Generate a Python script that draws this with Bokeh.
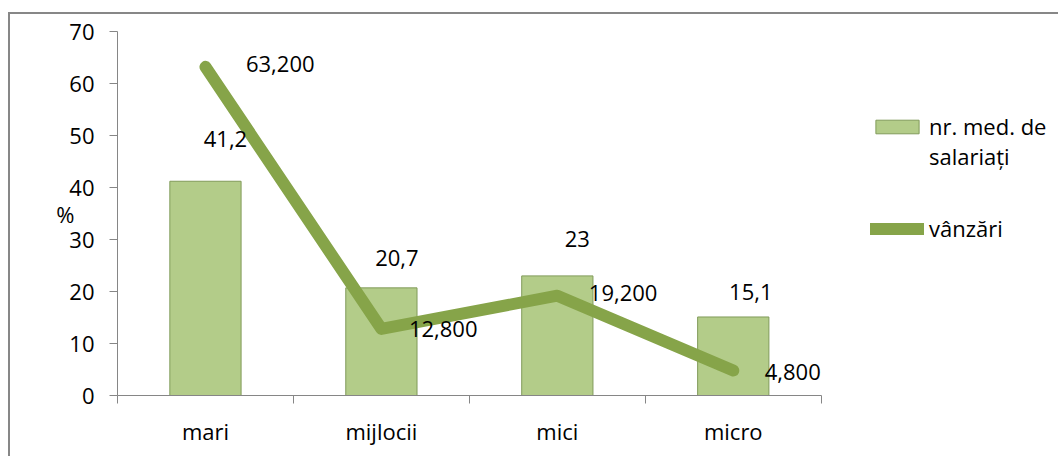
from bokeh.plotting import figure
from bokeh.models import Range1d, FixedTicker, Legend, LegendItem, ColumnDataSource
from bokeh.embed import file_html
from bokeh.resources import INLINE
from bokeh.core.properties import value

categories = ["mari", "mijlocii", "mici", "micro"]
employees = [41.2, 20.7, 23, 15.1]
sales = [63.2, 12.8, 19.2, 4.8]
y_ticks = [0, 10, 20, 30, 40, 50, 60, 70]
series_names = ["nr. med. de\nsalariați", "vânzări"]
y_axis_title = "%"

FONT = "Open Sans"
FS = "22px"
BAR_FILL = "#b3cc89"
BAR_LINE = "#819b5a"
LINE_COLOR = "#86a449"
AXIS_COLOR = "#868686"

xs = [i + 0.5 for i in range(len(categories))]
emp_labels = [("%g" % v).replace(".", ",") for v in employees]
sales_labels = [("%.3f" % v).replace(".", ",") for v in sales]

src = ColumnDataSource(dict(
    x=xs, emp=employees, sales=sales,
    emp_lbl=emp_labels, sales_lbl=sales_labels,
    emp_dx=[20, 15.5, 20, 17.5], emp_dy=[-41.8, -29.4, -36.9, -24.5],
    sales_dx=[40.5, 27.5, 31.5, 31.5], sales_dy=[-2.5, 0, -3, 1],
))

W, H = 1050, 444
p = figure(width=W, height=H, output_backend="svg", toolbar_location=None,
           x_range=Range1d(0, 5.36), y_range=Range1d(0, 70),
           min_border_left=107, min_border_top=17, min_border_bottom=63,
           min_border_right=0)
p.styles = {"border-left": "2px solid #878787", "border-top": "2px solid #878787",
            "margin-left": "8px", "margin-top": "12px"}
p.outline_line_color = None
p.grid.visible = False
p.background_fill_color = "white"
p.border_fill_color = "white"

# x axis
xa = p.xaxis[0]
xa.bounds = (0, len(categories))
xa.ticker = FixedTicker(ticks=xs, minor_ticks=list(range(len(categories) + 1)))
xa.major_label_overrides = {x: c for x, c in zip(xs, categories)}
xa.major_tick_out = 0
xa.major_tick_in = 0
xa.minor_tick_out = 8
xa.minor_tick_in = 0
xa.minor_tick_line_color = AXIS_COLOR
xa.axis_line_color = AXIS_COLOR
xa.major_label_standoff = 12
xa.major_label_text_font = FONT
xa.major_label_text_font_size = FS
xa.major_label_text_color = "black"

ya = p.yaxis[0]
ya.ticker = FixedTicker(ticks=y_ticks)
ya.minor_tick_line_color = None
ya.major_tick_out = 8
ya.major_tick_in = 0
ya.major_tick_line_color = AXIS_COLOR
ya.axis_line_color = AXIS_COLOR
ya.major_label_standoff = 15
ya.major_label_text_font = FONT
ya.major_label_text_font_size = FS
ya.major_label_text_color = "black"
ya.axis_label = y_axis_title
ya.axis_label_orientation = "horizontal"
ya.axis_label_standoff = -8
ya.axis_label_text_font = FONT
ya.axis_label_text_font_size = FS
ya.axis_label_text_font_style = "normal"
ya.axis_label_text_color = "black"

r_bar = p.vbar(x="x", top="emp", width=0.405, source=src,
               fill_color=BAR_FILL, line_color=BAR_LINE, line_width=1)
r_line = p.line(x="x", y="sales", source=src, line_width=12, line_color=LINE_COLOR,
                line_cap="round", line_join="round")

p.text(x="x", y="emp", text="emp_lbl", source=src, x_offset="emp_dx", y_offset="emp_dy",
       text_align="center", text_baseline="middle", text_font=value(FONT),
       text_font_size=FS, text_color="black")
p.text(x="x", y="sales", text="sales_lbl", source=src, x_offset="sales_dx", y_offset="sales_dy",
       text_align="left", text_baseline="middle", text_font=value(FONT),
       text_font_size=FS, text_color="black")

legend = Legend(items=[LegendItem(label="\n" + series_names[0], renderers=[r_bar]),
                       LegendItem(label=series_names[1], renderers=[r_line])],
                location=(753, 152), glyph_width=54, glyph_height=17,
                label_standoff=5, spacing=42, padding=0, margin=0,
                border_line_color=None, background_fill_alpha=0,
                label_text_font=FONT, label_text_font_size=FS,
                label_text_line_height=1.55, label_text_color="black")
p.add_layout(legend)

open("out.html", "w").write(file_html(p, INLINE))
